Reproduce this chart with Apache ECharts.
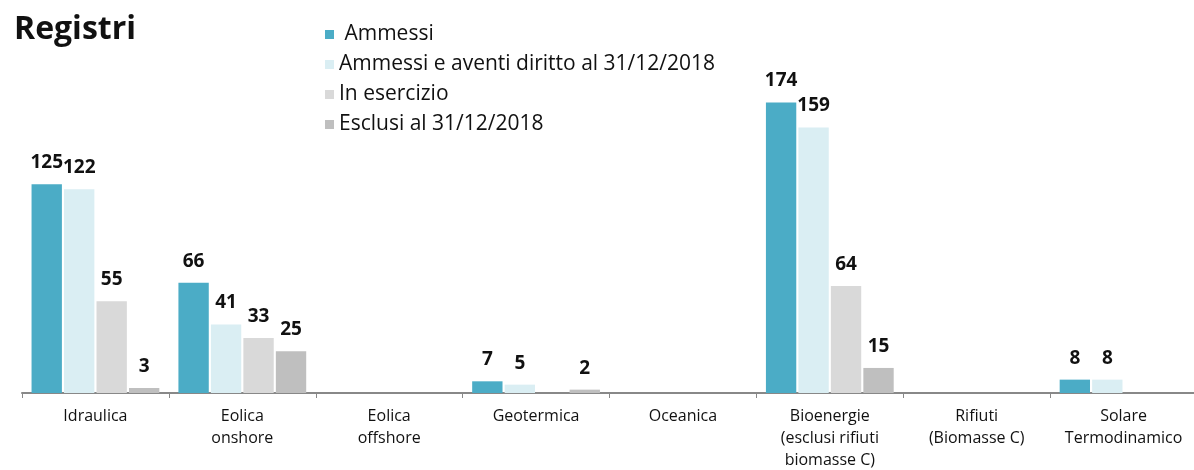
<!DOCTYPE html>
<html lang="it">
<head>
<meta charset="UTF-8">
<title>Registri</title>
<script src="https://cdn.jsdelivr.net/npm/echarts@6/dist/echarts.min.js"></script>
<style>
    html, body { margin: 0; padding: 0; background: #fff; }
    #main { width: 1194px; height: 470px; }
</style>
</head>
<body>
<div id="main"></div>
<script>
    // categorie (asse x)
    const categories = [
        'Idraulica',
        'Eolica\nonshore',
        'Eolica\noffshore',
        'Geotermica',
        'Oceanica',
        'Bioenergie\n(esclusi rifiuti\nbiomasse C)',
        'Rifiuti\n(Biomasse C)',
        'Solare\nTermodinamico'
    ];
    const seriesNames = [
        ' Ammessi',
        'Ammessi e aventi diritto al 31/12/2018',
        'In esercizio',
        'Esclusi al 31/12/2018'
    ];
    // valori (null = nessuna barra)
    const ammessi   = [125, 66, null, 7, null, 174, null, 8];
    const aventi    = [122, 41, null, 5, null, 159, null, 8];
    const esercizio = [55, 33, null, null, null, 64, null, null];
    const esclusi   = [3, 25, null, 2, null, 15, null, null];

    const colors = ['#4BACC6', '#DAEEF3', '#D9D9D9', '#BFBFBF'];
    const font = '"Open Sans", "Noto Sans", sans-serif';

    const chart = echarts.init(document.getElementById('main'));

    const dataSets = [ammessi, aventi, esercizio, esclusi];
    const series = dataSets.map((d, i) => ({
        name: seriesNames[i],
        type: 'bar',
        data: d,
        barGap: '7%',
        barCategoryGap: '13%',
        itemStyle: { color: colors[i] },
        label: {
            show: true,
            position: 'top',
            distance: 12,
            color: '#111',
            fontFamily: font,
            fontWeight: 'bold',
            fontSize: 19
        }
    }));

    chart.setOption({
        animation: false,
        title: {
            text: 'Registri',
            left: 9,
            top: 9,
            textStyle: { fontFamily: font, fontWeight: 'bold', fontSize: 32, color: '#111' }
        },
        legend: {
            orient: 'vertical',
            left: 320,
            top: 19,
            itemWidth: 9,
            itemHeight: 9,
            itemGap: 9,
            icon: 'rect',
            data: seriesNames,
            textStyle: { fontFamily: font, fontSize: 21, color: '#111' }
        },
        grid: { left: 22, right: -3, top: 59, bottom: 77, outerBoundsMode: 'none' },
        xAxis: {
            type: 'category',
            data: categories,
            axisLine: { lineStyle: { color: '#888', width: 2 } },
            axisTick: { show: true, length: 5, lineStyle: { color: '#888' } },
            axisLabel: {
                interval: 0,
                margin: 12,
                color: '#111',
                fontFamily: font,
                fontSize: 16,
                lineHeight: 22
            }
        },
        yAxis: {
            type: 'value',
            min: 0,
            max: 200,
            show: false,
            splitLine: { show: false }
        },
        series: series
    });
</script>
</body>
</html>
